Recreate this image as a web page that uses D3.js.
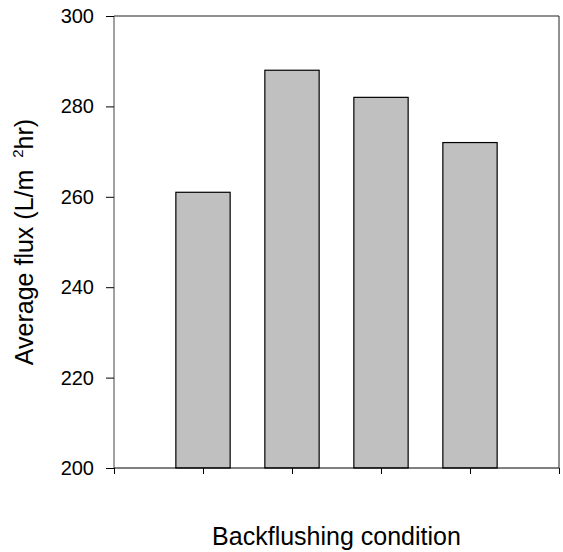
<!DOCTYPE html>
<html>
<head>
<meta charset="utf-8">
<script src="https://cdn.jsdelivr.net/npm/d3@7"></script>
<style>
  body { margin: 0; background: #fff; }
  svg { display: block; font-family: Arial, "Liberation Sans", Helvetica, sans-serif; }
</style>
</head>
<body>
<svg id="chart" width="563" height="552"></svg>
<script>
// bar chart: average flux per backflushing condition
var conditions = [1, 2, 3, 4];
var flux = [261, 288, 282, 272];
var yTicks = [200, 220, 240, 260, 280, 300];
var xTicks = [0, 1, 2, 3, 4, 5];

var W = 563, H = 552;
var margin = { top: 16, right: 4, bottom: 84, left: 114 };
var svg = d3.select("#chart");

var x = d3.scaleLinear().domain([0, 5]).range([margin.left, W - margin.right]);
var y = d3.scaleLinear().domain([200, 300]).range([H - margin.bottom, margin.top]);
var barW = (x(1) - x(0)) * 0.61;

// frame (top + right)
svg.append("path")
  .attr("d", `M${x(0)},${y(300)}H${x(5)}V${y(200)}`)
  .attr("fill", "none").attr("stroke", "#222").attr("stroke-width", 1);

// bars
svg.selectAll("rect.bar")
  .data(conditions)
  .join("rect")
  .attr("class", "bar")
  .attr("x", (d) => x(d) - barW / 2)
  .attr("width", barW)
  .attr("y", (d, i) => y(flux[i]))
  .attr("height", (d, i) => y(200) - y(flux[i]))
  .attr("fill", "#c0c0c0")
  .attr("stroke", "#000")
  .attr("stroke-width", 1.2);

// axes
var yAxis = d3.axisLeft(y).tickValues(yTicks).tickSize(8).tickPadding(12).tickFormat(d3.format("d"));
var xAxis = d3.axisBottom(x).tickValues(xTicks).tickSize(6).tickFormat("");

var gy = svg.append("g").attr("transform", `translate(${x(0)},0)`).call(yAxis);
gy.select(".domain").attr("d", `M0,${y(300)}V${y(200)}`).attr("stroke", "#444");
gy.selectAll(".tick line").attr("stroke", "#000");
gy.selectAll(".tick text").attr("font-size", 20).attr("fill", "#000").attr("font-family", "Arial, 'Liberation Sans', sans-serif");

var gx = svg.append("g").attr("transform", `translate(0,${y(200)})`).call(xAxis);
gx.select(".domain").attr("d", `M${x(0)},0H${x(5)}`).attr("stroke", "#000");
gx.selectAll(".tick line").attr("stroke", "#000");

// axis titles
svg.append("text")
  .attr("x", (x(0) + x(5)) / 2)
  .attr("y", 545)
  .attr("text-anchor", "middle")
  .attr("font-size", 25)
  .text("Backflushing condition");

var yl = svg.append("text")
  .attr("transform", `translate(33,${(y(200) + y(300)) / 2}) rotate(-90)`)
  .attr("text-anchor", "middle")
  .attr("font-size", 25);
yl.append("tspan").text("Average flux (L/m ");
yl.append("tspan").attr("font-size", 15).attr("dx", 5).attr("dy", -10).text("2");
yl.append("tspan").attr("dy", 10).text("hr)");
</script>
</body>
</html>
